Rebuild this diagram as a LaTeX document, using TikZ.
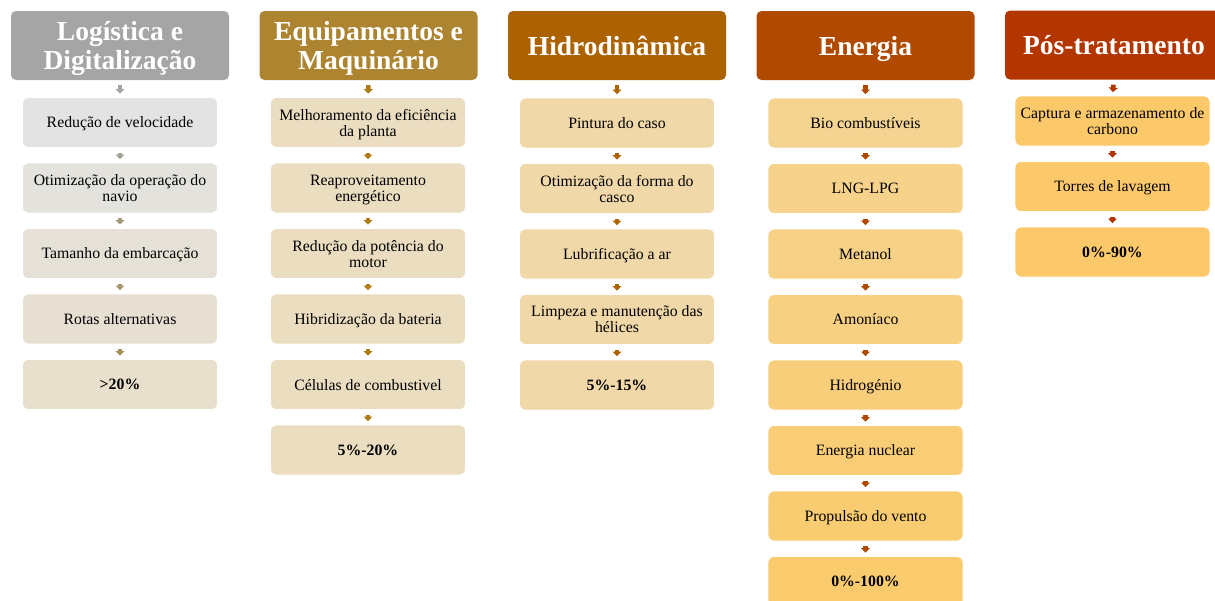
\documentclass[tikz,border=0pt]{standalone}
\usepackage{fontspec}
\setmainfont{Liberation Serif}
\usetikzlibrary{arrows.meta}

\definecolor{cabA}{HTML}{A5A5A5}
\definecolor{cabB}{HTML}{AD8430}
\definecolor{cabC}{HTML}{AD6200}
\definecolor{cabD}{HTML}{AF4A00}
\definecolor{cabE}{HTML}{B33500}
\definecolor{fundoA}{HTML}{E3E3E3}
\definecolor{fundoAb}{HTML}{E8DFCC}
\definecolor{fundoB}{HTML}{EBDDBF}
\definecolor{fundoC}{HTML}{F0D8A8}
\definecolor{fundoD}{HTML}{F5D390}
\definecolor{fundoDb}{HTML}{FACB6C}
\definecolor{fundoE}{HTML}{FBC96A}
\definecolor{setaA}{HTML}{A5A5A5}
\definecolor{setaAb}{HTML}{A88E5C}
\definecolor{setaB}{HTML}{AE7C14}

\tikzset{
  cabec/.style={rounded corners=5pt, minimum width=218pt, minimum height=69pt,
    inner sep=0pt, align=center, text=white, text depth=0pt,
    font=\fontsize{27.5}{29}\selectfont\bfseries},
  caixa/.style={rounded corners=6pt, minimum width=195pt, minimum height=50pt,
    inner sep=0pt, align=center, draw=white, line width=0.8pt, text depth=0pt,
    font=\fontsize{15.8}{16}\selectfont},
  seta/.style={line width=4.5pt, -{Triangle[width=9pt,length=4.5pt]},
    shorten <=5pt, shorten >=3.5pt},
}

\begin{document}
\begin{tikzpicture}[x=1pt,y=-1pt]
  \clip (0,0) rectangle (1215,600);
  \def\passo{65.5}
  % Logistica
  \node [cabec, fill=cabA] (log0) at (120,45.5) {Logística e\\Digitalização};
  \foreach \t [count=\i, evaluate=\i as \p using {int(100*(\i-1)/4)}] in
    {Redução de velocidade, {Otimização da operação do\\navio},
     Tamanho da embarcação, Rotas alternativas, \textbf{>20\%}}
    { \node [caixa, fill=fundoAb!\p!fundoA] (log\i) at (120,{122.5+\passo*(\i-1)}) {\t}; }
  \foreach \i [evaluate=\i as \j using int(\i-1),
               evaluate=\i as \p using {int(100*(\i-1)/4)}] in {1,...,5}
    \draw [seta, setaAb!\p!setaA] (log\j.south) -- (log\i.north);
  % Equipamentos
  \node [cabec, fill=cabB] (equ0) at (368.5,45.5) {Equipamentos e\\Maquinário};
  \foreach \t [count=\i] in
    {{Melhoramento da eficiência\\da planta}, {Reaproveitamento\\energético},
     {Redução da potência do\\motor}, Hibridização da bateria,
     Células de combustivel, \textbf{5\%-20\%}}
    { \node [caixa, fill=fundoB] (equ\i) at (368,{122.5+\passo*(\i-1)}) {\t}; }
  \foreach \i [evaluate=\i as \j using int(\i-1)] in {1,...,6}
    \draw [seta, setaB] (equ\j.south) -- (equ\i.north);
  % Hidrodinamica
  \node [cabec, fill=cabC] (hid0) at (617,45.5) {Hidrodinâmica};
  \foreach \t [count=\i] in
    {Pintura do caso, {Otimização da forma do\\casco}, Lubrificação a ar,
     {Limpeza e manutenção das\\hélices}, \textbf{5\%-15\%}}
    { \node [caixa, fill=fundoC] (hid\i) at (617,{123+\passo*(\i-1)}) {\t}; }
  \foreach \i [evaluate=\i as \j using int(\i-1)] in {1,...,5}
    \draw [seta, cabC] (hid\j.south) -- (hid\i.north);
  % Energia
  \node [cabec, fill=cabD] (ene0) at (865.5,45.5) {Energia};
  \foreach \t [count=\i, evaluate=\i as \p using {int(100*(\i-1)/7)}] in
    {Bio combustíveis, LNG-LPG, Metanol, Amoníaco, Hidrogénio,
     Energia nuclear, Propulsão do vento, \textbf{0\%-100\%}}
    { \node [caixa, fill=fundoDb!\p!fundoD] (ene\i) at (865.5,{123+\passo*(\i-1)}) {\t}; }
  \foreach \i [evaluate=\i as \j using int(\i-1)] in {1,...,8}
    \draw [seta, cabD] (ene\j.south) -- (ene\i.north);
  % Pos-tratamento
  \node [cabec, fill=cabE] (pos0) at (1114,45) {Pós-tratamento};
  \foreach \t [count=\i] in
    {{Captura e armazenamento de\\carbono}, Torres de lavagem, \textbf{0\%-90\%}}
    { \node [caixa, fill=fundoE] (pos\i) at (1112.5,{121+\passo*(\i-1)}) {\t}; }
  \foreach \i [evaluate=\i as \j using int(\i-1)] in {1,...,3}
    \draw [seta, cabE] (pos\j.south) -- (pos\i.north);
\end{tikzpicture}
\end{document}
